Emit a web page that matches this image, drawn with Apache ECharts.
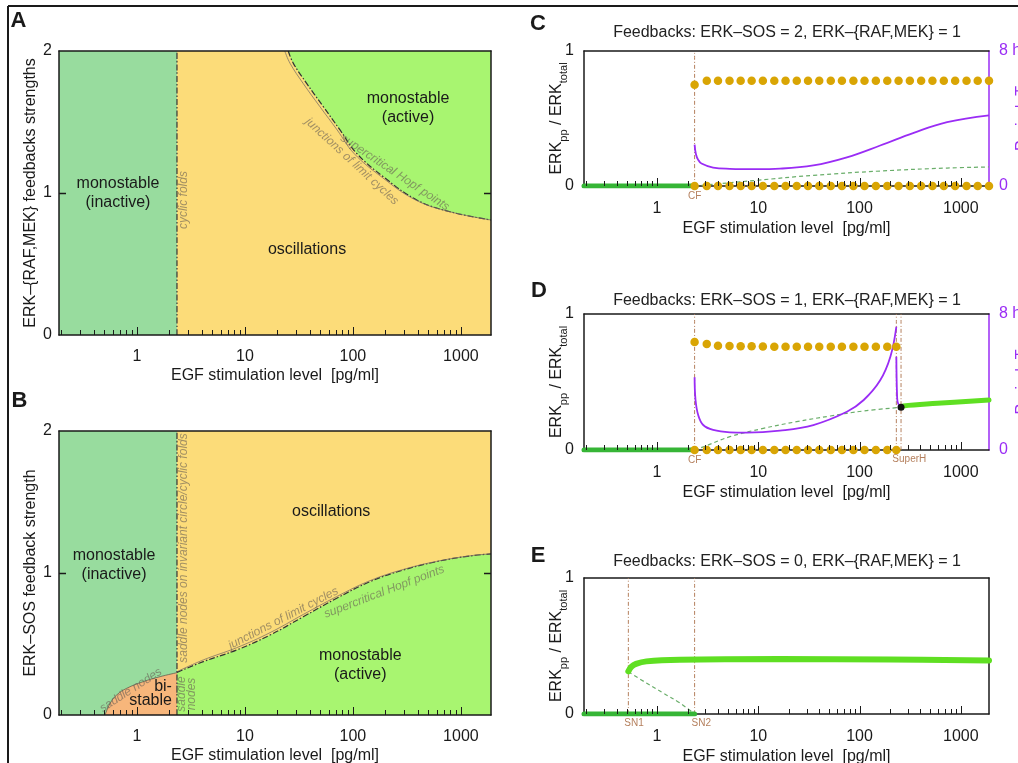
<!DOCTYPE html>
<html>
<head>
<meta charset="utf-8">
<script src="https://cdn.jsdelivr.net/npm/echarts@6/dist/echarts.min.js"></script>
<style>
html, body { margin: 0; padding: 0; background: #fff; }
#page { position: relative; width: 1018px; height: 763px; overflow: hidden; }
.layer { position: absolute; left: 0; top: 0; width: 1018px; height: 763px; }
</style>
</head>
<body>
<div id="page">
  <div class="layer" id="panelA"></div>
  <div class="layer" id="panelB"></div>
  <div class="layer" id="panelC"></div>
  <div class="layer" id="panelD"></div>
  <div class="layer" id="panelE"></div>
</div>
<script>
// ---------------- data ----------------
const EGF_MIN = 0.19, EGF_MAX = 1900;          // x range [pg/ml]
const majorTicks = [1, 10, 100, 1000];
const minorTicks = [0.2, 0.3, 0.4, 0.5, 0.6, 0.7, 0.8, 0.9,
                    2, 3, 4, 5, 6, 7, 8, 9,
                    20, 30, 40, 50, 60, 70, 80, 90,
                    200, 300, 400, 500, 600, 700, 800, 900];
const CF = 2.35;                                // cyclic fold / SN2 position
const SN1 = 0.521;
const SUPER_H = [231, 257];
const feedbackMax = 2;                          // feedback-strength axis top (A, B)
const feedbackTicks = [1];

// Panel A: ERK-{RAF,MEK} strength vs EGF
const foldA = [[CF, 0], [CF, 2]];
const hopfA = [[25.2, 2.0], [28.1, 1.913], [37.3, 1.772], [53.2, 1.608], [76, 1.444],
               [108, 1.28], [191, 1.115], [390, 0.951], [793, 0.868], [1900, 0.81]];
const junctionA = [[23.4, 2.0], [26.2, 1.913], [34.6, 1.772], [49.5, 1.608], [71.5, 1.444],
                   [102, 1.28], [183, 1.115], [380, 0.951], [790, 0.868], [1900, 0.81]];

// Panel B: ERK-SOS strength vs EGF
const foldB = [[CF, 0], [CF, 2]];
const saddleB = [[0.507, 0], [0.565, 0.082], [0.65, 0.141], [0.805, 0.188],
                 [1.146, 0.235], [1.64, 0.27], [2.35, 0.298]];
const hopfB = [[2.35, 0.3], [4.12, 0.376], [8.39, 0.458], [17.1, 0.563], [34.7, 0.692],
               [70.8, 0.822], [144, 0.939], [293, 1.021], [597, 1.08], [1213, 1.12], [1900, 1.134]];
const junctionB = [[2.35, 0.305], [4.12, 0.388], [8.39, 0.474], [17.1, 0.58], [34.7, 0.708],
                   [70.8, 0.834], [144, 0.946], [293, 1.025], [597, 1.082], [1213, 1.121], [1900, 1.135]];

// Panel C: ERK-SOS = 2
const cStableLow = [[EGF_MIN, 0], [CF, 0]];
const cUnstable = [[2.35, 0], [3.6, 0.013], [9.6, 0.042], [35, 0.079], [160, 0.111], [733, 0.133], [1900, 0.141]];
const cPeriod = [[2.35, 2.45], [2.42, 1.9], [2.55, 1.55], [2.75, 1.33], [3.58, 1.09], [5.25, 1.02], [9.6, 1.0],
                 [16.4, 1.03], [35, 1.22], [75, 1.7], [160, 2.4], [343, 3.15], [733, 3.78], [1900, 4.19]];
const cOscX = [2.35, 3.1, 4.0, 5.2, 6.7, 8.6, 11.1, 14.4, 18.6, 24, 31, 40, 52, 67, 87, 112,
               145, 188, 243, 314, 406, 525, 680, 880, 1140, 1470, 1900];
const cOscMax = [0.75, 0.78, 0.78, 0.78, 0.78, 0.78, 0.78, 0.78, 0.78, 0.78, 0.78, 0.78, 0.78, 0.78,
                 0.78, 0.78, 0.78, 0.78, 0.78, 0.78, 0.78, 0.78, 0.78, 0.78, 0.78, 0.78, 0.78];
const cOscMin = [0, 0, 0, 0, 0, 0, 0, 0, 0, 0, 0, 0, 0, 0, 0, 0, 0, 0, 0, 0, 0, 0, 0, 0, 0, 0, 0];

// Panel D: ERK-SOS = 1
const dStableLow = [[EGF_MIN, 0], [CF, 0]];
const dUnstable = [[2.35, 0], [3.08, 0.032], [5.25, 0.098], [11.2, 0.159], [23.9, 0.208],
                   [51.3, 0.25], [110, 0.287], [257, 0.314]];
const dStableHigh = [[257, 0.314], [270, 0.324], [588, 0.343], [1900, 0.368]];
const dHopfPoint = [[257, 0.314]];
const dPeriodMain = [[2.35, 4.28], [2.40, 2.94], [2.55, 2.06], [2.86, 1.47], [3.58, 1.18], [5.25, 1.04],
                     [7.66, 1.02], [16.4, 1.14], [35, 1.47], [75, 2.25], [110, 2.94], [160, 4.1],
                     [202, 5.5], [231, 7.25]];
const dPeriodTail = [[231, 5.49], [235, 3.14], [240, 2.75], [257, 2.51]];
const dOscX = [2.35, 3.1, 4.0, 5.2, 6.7, 8.6, 11.1, 14.4, 18.6, 24, 31, 40, 52, 67, 87, 112, 145, 188, 231];
const dOscMax = [0.794, 0.779, 0.767, 0.765, 0.763, 0.762, 0.761, 0.76, 0.76, 0.76,
                 0.76, 0.76, 0.76, 0.76, 0.76, 0.76, 0.76, 0.76, 0.76];
const dOscMin = [0, 0, 0, 0, 0, 0, 0, 0, 0, 0, 0, 0, 0, 0, 0, 0, 0, 0, 0];

// Panel E: ERK-SOS = 0
const eStableLow = [[EGF_MIN, 0], [CF, 0]];
const eStableHigh = [[0.521, 0.313], [0.56, 0.348], [0.62, 0.369], [0.785, 0.387], [1.68, 0.399],
                     [16.4, 0.404], [200, 0.4], [1900, 0.394]];
const eUnstable = [[0.521, 0.31], [0.785, 0.228], [1.15, 0.154], [1.68, 0.081], [2.35, 0]];

// ---------------- styles ----------------
const FONT = '"Liberation Sans", Arial, Helvetica, sans-serif';
const INK = '#1a1a1a';
const COL_INACTIVE = '#98dc9e', COL_OSC = '#fcdc79', COL_ACTIVE = '#a8f570', COL_BISTABLE = '#f7b67b';
const COL_LOW = '#36b536', COL_HIGH = '#5fdf22', COL_UNSTABLE = '#6aae6a';
const COL_DOT = '#d9a504', COL_PERIOD = '#9a2cf5', COL_MARK = '#b5805e';
const COL_NOTE = 'rgba(105,95,85,0.62)';
const DASHDOT = [6, 2, 1.5, 2];
const MAJOR_LEN = 8, MINOR_LEN = 5;

// EGF is shown on a decade scale: the x axes run in log10(EGF)
const lg = Math.log10;
const toLog = pts => pts.map(p => [lg(p[0]), p[1]]);
function pairs(xs, ys) { return xs.map((x, i) => [x, ys[i]]); }

const hidden = { show: false };

// x axes: labelled bottom axis line and top frame line
function xAxisSet(z, gap, margin) {
  const base = { type: 'value', min: lg(EGF_MIN), max: lg(EGF_MAX), gridIndex: 0, z: z,
                 splitLine: hidden, minorTick: hidden, axisTick: hidden };
  return [
    Object.assign({}, base, {
      position: 'bottom',
      axisLine: { show: true, onZero: false, lineStyle: { color: INK, width: 1.5 } },
      axisLabel: { show: true, customValues: majorTicks.map(lg), margin: margin, fontSize: 16, fontFamily: FONT, color: INK,
                   formatter: v => String(Math.round(Math.pow(10, v))) },
      name: 'EGF stimulation level  [pg/ml]', nameLocation: 'middle', nameGap: gap, nameMoveOverlap: false,
      nameTextStyle: { fontSize: 16, fontFamily: FONT, color: INK }
    }),
    Object.assign({}, base, {
      position: 'top',
      axisLine: { show: true, onZero: false, lineStyle: { color: INK, width: 1.5 } },
      axisLabel: hidden
    })
  ];
}

const ratioName = '{m|ERK}{s|pp}{m| / ERK}{s|total}';
const ratioRich = {
  m: { fontSize: 16, fontFamily: FONT, color: INK, lineHeight: 24, verticalAlign: 'middle' },
  s: { fontSize: 11, fontFamily: FONT, color: INK, lineHeight: 24, verticalAlign: 'bottom' }
};

function feedbackAxes(name) {
  const base = { type: 'value', gridIndex: 0, min: 0, max: feedbackMax, interval: 1, z: 10,
                 splitLine: hidden, axisTick: hidden };
  return [
    Object.assign({}, base, {
      position: 'left',
      axisLine: { show: true, onZero: false, lineStyle: { color: INK, width: 1.5 } },
      axisLabel: { fontSize: 16, fontFamily: FONT, color: INK, margin: 7 },
      name: name, nameLocation: 'middle', nameGap: 20, nameRotate: 90, nameMoveOverlap: false,
      nameTextStyle: { fontSize: 16, fontFamily: FONT, color: INK }
    }),
    Object.assign({}, base, {
      position: 'right',
      axisLine: { show: true, onZero: false, lineStyle: { color: INK, width: 1.5 } },
      axisLabel: hidden
    })
  ];
}
function leftRatioAxis() {
  return { type: 'value', gridIndex: 0, position: 'left', min: 0, max: 1, interval: 1,
    axisLine: { show: true, onZero: false, lineStyle: { color: INK, width: 1.5 } },
    axisTick: hidden,
    axisLabel: { fontSize: 16, fontFamily: FONT, color: INK, margin: 10 },
    splitLine: hidden,
    name: ratioName, nameLocation: 'middle', nameGap: 15, nameRotate: 90, nameMoveOverlap: false,
    nameTextStyle: { rich: ratioRich } };
}
function periodAxis() {
  return { type: 'value', gridIndex: 0, position: 'right', min: 0, max: 8, interval: 8,
    axisLine: { show: true, onZero: false, lineStyle: { color: COL_PERIOD, width: 1.5 } },
    axisTick: hidden,
    axisLabel: { fontSize: 16, fontFamily: FONT, color: COL_PERIOD, margin: 10,
                 formatter: v => (v === 8 ? '8 h' : String(v)) },
    splitLine: hidden,
    name: 'Period  T', nameLocation: 'middle', nameGap: 26, nameRotate: 90, nameMoveOverlap: false,
    nameTextStyle: { fontSize: 16, fontFamily: FONT, color: COL_PERIOD } };
}
function plainRightAxis() {
  return { type: 'value', gridIndex: 0, position: 'right', min: 0, max: 1,
    axisLine: { show: true, onZero: false, lineStyle: { color: INK, width: 1.5 } },
    axisTick: hidden, axisLabel: hidden, splitLine: hidden };
}

// series helpers (every panel has its own chart: x axis 0, y axis 0, period on y axis 1)
function fill(data, color, origin, line) {
  return { type: 'line', xAxisIndex: 0, yAxisIndex: 0, data: toLog(data), symbol: 'none', silent: true,
    smooth: 0.4, z: 1,
    lineStyle: line || { width: 0 },
    areaStyle: { color: color, opacity: 1, origin: origin } };
}
function curve(data, style, z, yIndex) {
  return { type: 'line', xAxisIndex: 0, yAxisIndex: yIndex || 0,
    data: toLog(data), symbol: 'none', silent: true, smooth: 0.4, z: z || 3, lineStyle: style };
}
function dots(data, color, size) {
  return { type: 'scatter', xAxisIndex: 0, yAxisIndex: 0, data: toLog(data), symbol: 'circle',
    symbolSize: size, silent: true, z: 5, itemStyle: { color: color, opacity: 1 } };
}
// inward decade ticks of the EGF axis, drawn as a custom series on the panel's own scales
function egfTickSeries(z) {
  const items = majorTicks.map(v => [lg(v), 0, MAJOR_LEN]).concat(minorTicks.map(v => [lg(v), 0, MINOR_LEN]));
  return { type: 'custom', xAxisIndex: 0, yAxisIndex: 0, silent: true, z: z, clip: false,
    data: items,
    renderItem: (params, api) => {
      const p = api.coord([api.value(0), api.value(1)]);
      const x = Math.round(p[0]) + 0.5;
      return { type: 'line', shape: { x1: x, y1: p[1], x2: x, y2: p[1] - api.value(2) },
               style: { stroke: INK, lineWidth: 1 } };
    } };
}
const markStyle = { color: COL_MARK, width: 1, type: [4, 2, 1, 2] };
const boundaryStyle = { color: '#333', width: 1.2, type: DASHDOT };
const junctionStyle = { color: 'rgba(120,110,100,0.75)', width: 1 };
const unstableStyle = { color: COL_UNSTABLE, width: 1.2, type: [4, 3] };
const periodStyle = { color: COL_PERIOD, width: 1.8 };

// ---------------- annotation helpers ----------------
function label(p, text, o) {
  o = o || {};
  return { type: 'text', x: p[0] + (o.dx || 0), y: p[1] + (o.dy || 0), rotation: o.rot || 0, z: 100, silent: true,
    style: { text: text, font: o.font || ('16px ' + FONT), fill: o.color || INK,
      align: o.align || 'center', textAlign: o.align || 'center',
      verticalAlign: o.va || 'middle', textVerticalAlign: o.va || 'middle',
      lineHeight: o.lh || 19 } };
}
function seg(x1, y1, x2, y2, z, w) {
  return { type: 'line', z: z, silent: true, shape: { x1: x1, y1: y1, x2: x2, y2: y2 },
           style: { stroke: INK, lineWidth: w || 1 } };
}
// inward ticks on both feedback-strength axes
function feedbackTickMarks(px, z) {
  const out = [];
  feedbackTicks.forEach(v => {
    const l = px([EGF_MIN, v]), r = px([EGF_MAX, v]);
    const y = Math.round(l[1]) + 0.5;
    out.push(seg(l[0], y, l[0] + 7, y, z, 1.5));
    out.push(seg(r[0] - 7, y, r[0], y, z, 1.5));
  });
  return out;
}
const noteFont = 'italic 12px ' + FONT;
const smallFont = '10px ' + FONT;
const letterFont = 'bold 22px ' + FONT;
const deg = Math.PI / 180;

function makePanel(id, rect, xAxes, yAxes, series, annotate, background) {
  const chart = echarts.init(document.getElementById(id), null, { renderer: 'canvas' });
  chart.setOption({
    animation: false,
    backgroundColor: background || 'transparent',
    textStyle: { fontFamily: FONT },
    grid: [Object.assign({ containLabel: false, outerBoundsMode: 'none' }, rect)],
    xAxis: xAxes, yAxis: yAxes, series: series
  });
  const px = pt => chart.convertToPixel({ xAxisIndex: 0, yAxisIndex: 0 }, [lg(pt[0]), pt[1]]);
  chart.setOption({ graphic: annotate(px) });
  return chart;
}

// ---- A ----
makePanel('panelA', { left: 59, top: 51, width: 432, height: 284 },
  xAxisSet(10, 33, 14), feedbackAxes('ERK\u2013{RAF,MEK} feedbacks strengths'),
  [
    fill([[EGF_MIN, feedbackMax], [CF, feedbackMax]], COL_INACTIVE, 'start'),
    fill([[CF, feedbackMax], [EGF_MAX, feedbackMax]], COL_OSC, 'start'),
    fill(hopfA, COL_ACTIVE, 'end', boundaryStyle),
    curve(junctionA, junctionStyle),
    curve(foldA, boundaryStyle),
    egfTickSeries(6)
  ],
  px => [].concat(feedbackTickMarks(px, 50), [
    seg(8, 6, 1018, 6, 100, 2),
    seg(8, 6, 8, 763, 100, 2),
    label([18.5, 21], 'A', { font: letterFont }),
    label(px([0.668, 1.0]), 'monostable\n(inactive)'),
    label(px([324, 1.6]), 'monostable\n(active)'),
    label(px([37.6, 0.6]), 'oscillations'),
    label(px([2.73, 0.95]), 'cyclic folds', { font: noteFont, color: COL_NOTE, rot: 90 * deg }),
    label(px([98, 1.222]), 'junctions of limit cycles', { font: noteFont, color: COL_NOTE, rot: -42.7 * deg }),
    label(px([245, 1.144]), 'supercritical Hopf points', { font: noteFont, color: COL_NOTE, rot: -33.8 * deg })
  ]), '#ffffff');

// ---- B ----
makePanel('panelB', { left: 59, top: 431, width: 432, height: 284 },
  xAxisSet(10, 33, 14), feedbackAxes('ERK\u2013SOS feedback strength'),
  [
    fill([[EGF_MIN, feedbackMax], [CF, feedbackMax]], COL_INACTIVE, 'start'),
    fill([[CF, feedbackMax], [EGF_MAX, feedbackMax]], COL_OSC, 'start'),
    fill(hopfB, COL_ACTIVE, 'start', boundaryStyle),
    fill(saddleB, COL_BISTABLE, 'start', { color: 'rgba(90,80,70,0.7)', width: 1 }),
    curve(junctionB, junctionStyle),
    curve(foldB, boundaryStyle),
    egfTickSeries(6)
  ],
  px => [].concat(feedbackTickMarks(px, 50), [
    label([19.5, 401], 'B', { font: letterFont }),
    label(px([0.614, 1.056]), 'monostable\n(inactive)'),
    label(px([63, 1.43]), 'oscillations'),
    label(px([117, 0.352]), 'monostable\n(active)'),
    label(px([2.11, 0.148]), 'bi-\nstable', { align: 'right', lh: 14 }),
    label(px([2.73, 1.176]), 'saddle nodes on invariant circle/cyclic folds', { font: noteFont, color: COL_NOTE, rot: 90 * deg }),
    label(px([2.91, 0.148]), 'saddle\nnodes', { font: noteFont, color: COL_NOTE, rot: 90 * deg, lh: 10 }),
    label(px([0.88, 0.176]), 'saddle nodes', { font: noteFont, color: COL_NOTE, rot: 33 * deg }),
    label(px([22.7, 0.681]), 'junctions of limit cycles', { font: noteFont, color: COL_NOTE, rot: 27.3 * deg }),
    label(px([195, 0.868]), 'supercritical Hopf points', { font: noteFont, color: COL_NOTE, rot: 21 * deg })
  ]));

// ---- C ----
makePanel('panelC', { left: 584, top: 51, width: 405, height: 135 },
  xAxisSet(0, 35, 15), [leftRatioAxis(), periodAxis()],
  [
    curve([[CF, 0], [CF, 1]], markStyle, 2),
    curve(cUnstable, unstableStyle),
    curve(cStableLow, { color: COL_LOW, width: 5, cap: 'round' }),
    curve(cPeriod, periodStyle, 3, 1),
    dots(pairs(cOscX, cOscMax), COL_DOT, 8.5),
    dots(pairs(cOscX, cOscMin), COL_DOT, 8.5),
    egfTickSeries(6)
  ],
  px => [
    label([538, 24], 'C', { font: letterFont }),
    label([787, 33], 'Feedbacks: ERK\u2013SOS = 2, ERK\u2013{RAF,MEK} = 1', { color: '#222' }),
    label(px([CF, 0]), 'CF', { font: smallFont, color: COL_MARK, dy: 10 })
  ]);

// ---- D ----
makePanel('panelD', { left: 584, top: 314, width: 405, height: 136 },
  xAxisSet(0, 35, 15), [leftRatioAxis(), periodAxis()],
  [
    curve([[CF, 0], [CF, 1]], markStyle, 2),
    curve([[SUPER_H[0], 0], [SUPER_H[0], 1]], markStyle, 2),
    curve([[SUPER_H[1], 0], [SUPER_H[1], 1]], markStyle, 2),
    curve(dUnstable, unstableStyle),
    curve(dStableLow, { color: COL_LOW, width: 5, cap: 'round' }),
    curve(dStableHigh, { color: COL_HIGH, width: 5, cap: 'round' }),
    curve(dPeriodMain, periodStyle, 3, 1),
    curve(dPeriodTail, periodStyle, 3, 1),
    dots(pairs(dOscX, dOscMax), COL_DOT, 8.5),
    dots(pairs(dOscX, dOscMin), COL_DOT, 8.5),
    dots(dHopfPoint, '#111', 7),
    egfTickSeries(6)
  ],
  px => [
    label([539, 291], 'D', { font: letterFont }),
    label([787, 301], 'Feedbacks: ERK\u2013SOS = 1, ERK\u2013{RAF,MEK} = 1', { color: '#222' }),
    label(px([CF, 0]), 'CF', { font: smallFont, color: COL_MARK, dy: 10 }),
    label(px([SUPER_H[0], 0]), 'SuperH', { font: smallFont, color: COL_MARK, dy: 9, dx: -4, align: 'left' })
  ]);

// ---- E ----
makePanel('panelE', { left: 584, top: 578, width: 405, height: 136 },
  xAxisSet(0, 35, 15), [leftRatioAxis(), plainRightAxis()],
  [
    curve([[SN1, 0], [SN1, 1]], markStyle, 2),
    curve([[CF, 0], [CF, 1]], markStyle, 2),
    curve(eUnstable, unstableStyle),
    curve(eStableLow, { color: COL_LOW, width: 5, cap: 'round' }),
    curve(eStableHigh, { color: COL_HIGH, width: 6, cap: 'round' }),
    egfTickSeries(6)
  ],
  px => [
    label([538, 556], 'E', { font: letterFont }),
    label([787, 562], 'Feedbacks: ERK\u2013SOS = 0, ERK\u2013{RAF,MEK} = 1', { color: '#222' }),
    label(px([SN1, 0]), 'SN1', { font: smallFont, color: COL_MARK, dy: 9, dx: -4, align: 'left' }),
    label(px([CF, 0]), 'SN2', { font: smallFont, color: COL_MARK, dy: 9, dx: -3, align: 'left' })
  ]);
</script>
</body>
</html>
